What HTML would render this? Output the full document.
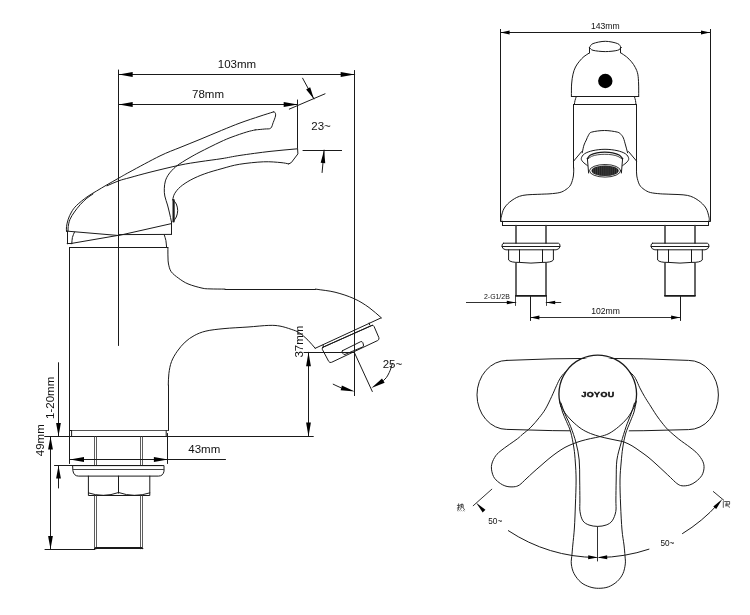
<!DOCTYPE html>
<html><head><meta charset="utf-8"><style>
html,body{margin:0;padding:0;background:#fff;}
body{width:750px;height:615px;overflow:hidden;}
svg{display:block;font-family:"Liberation Sans",sans-serif;will-change:transform;}
</style></head><body>
<svg width="750" height="615" viewBox="0 0 750 615" stroke-linecap="round" stroke-linejoin="round">
<rect width="750" height="615" fill="#fff"/>
<line x1="118.5" y1="70" x2="118.5" y2="345.5" stroke="#1a1a1a" stroke-width="1"/>
<line x1="118.7" y1="74.5" x2="354.7" y2="74.5" stroke="#1a1a1a" stroke-width="1"/>
<polygon points="118.7,74.5 132.7,72 132.7,77" fill="#000"/>
<polygon points="354.7,74.5 340.7,77 340.7,72" fill="#000"/>
<text x="237" y="68.2" font-size="11.5" text-anchor="middle" font-weight="normal" fill="#111">103mm</text>
<line x1="354.5" y1="70.5" x2="354.5" y2="395.6" stroke="#1a1a1a" stroke-width="1"/>
<line x1="118.7" y1="104.5" x2="297.7" y2="104.5" stroke="#1a1a1a" stroke-width="1"/>
<polygon points="118.7,104.5 132.7,102 132.7,107" fill="#000"/>
<polygon points="297.7,104.5 283.7,107 283.7,102" fill="#000"/>
<text x="208" y="98.2" font-size="11.5" text-anchor="middle" font-weight="normal" fill="#111">78mm</text>
<line x1="297.5" y1="100" x2="297.5" y2="148" stroke="#1a1a1a" stroke-width="1"/>
<line x1="289.3" y1="109.1" x2="325" y2="93.8" stroke="#1a1a1a" stroke-width="1"/>
<line x1="302.6" y1="78.2" x2="313.9" y2="98.9" stroke="#1a1a1a" stroke-width="1"/>
<polygon points="313.9,98.9 306.13,89.47 310.17,87.27" fill="#000"/>
<text x="311.3" y="129.6" font-size="11.5" text-anchor="start" font-weight="normal" fill="#111">23~</text>
<line x1="303" y1="150.5" x2="341.6" y2="150.5" stroke="#1a1a1a" stroke-width="1"/>
<line x1="324.1" y1="150.1" x2="322.1" y2="172.5" stroke="#1a1a1a" stroke-width="1"/>
<polygon points="324.1,150.1 325.23,163.25 320.65,162.84" fill="#000"/>
<path d="M66.5 231.4 C66.5 229.8 66.22 228.62 66.5 226.6 C66.78 224.58 67.37 221.73 68.2 219.3 C69.03 216.87 70.1 214.32 71.5 212 C72.9 209.68 74.03 207.9 76.6 205.4 C79.17 202.9 83.6 199.38 86.9 197 C90.2 194.62 93.05 193.13 96.4 191.1 C99.75 189.07 103.27 186.97 107 184.8 C110.73 182.63 114.97 180.27 118.8 178.1 C122.63 175.93 123.13 175.5 130 171.8 C136.87 168.1 151.67 159.95 160 155.9 C168.33 151.85 173.33 150.25 180 147.5 C186.67 144.75 193.08 142.25 200 139.4 C206.92 136.55 214.83 133.13 221.5 130.4 C228.17 127.67 233.58 125.37 240 123 C246.42 120.63 254.42 118.05 260 116.2 C265.58 114.35 269 113.33 273.5 111.9" stroke="#1a1a1a" stroke-width="1" fill="none"/>
<path d="M273.5 111.9 C274.03 112.13 274.77 111.92 275.1 112.6 C275.43 113.28 275.82 114.35 275.5 116 C275.18 117.65 274 120.47 273.2 122.5 C272.4 124.53 272.1 127.12 270.7 128.2 C269.3 129.28 267.38 128.72 264.8 129 C262.22 129.28 258.4 129.6 255.2 129.9" stroke="#1a1a1a" stroke-width="1" fill="none"/>
<path d="M255.2 129.9 C252.37 130.6 250.57 130.82 246.7 132 C242.83 133.18 236.45 135.32 232 137 C227.55 138.68 225.33 139.6 220 142.1 C214.67 144.6 205 149.43 200 152 C195 154.57 192.92 155.83 190 157.5 C187.08 159.17 184.9 160.45 182.5 162 C180.1 163.55 177.87 164.8 175.6 166.8 C173.33 168.8 170.6 171.65 168.9 174 C167.2 176.35 166.17 178.45 165.4 180.9 C164.63 183.35 164.4 186.18 164.3 188.7 C164.2 191.22 164.27 193.28 164.8 196 C165.33 198.72 166.72 202.17 167.5 205 C168.28 207.83 168.83 210.17 169.5 213 C170.17 215.83 170.83 219 171.5 222" stroke="#1a1a1a" stroke-width="1" fill="none"/>
<path d="M68.1 230.8 C68.13 229.4 67.88 228.52 68.2 226.6 C68.52 224.68 68.97 221.73 70 219.3 C71.03 216.87 72.68 214.45 74.4 212 C76.12 209.55 78.22 206.9 80.3 204.6 C82.38 202.3 84.78 199.97 86.9 198.2 C89.02 196.43 90.97 195.4 93 194" stroke="#1a1a1a" stroke-width="1" fill="none"/>
<path d="M107 185.8 C110.93 184.13 114.97 182.17 118.8 180.8 C122.63 179.43 124.8 179.03 130 177.6 C135.2 176.17 141.67 174.28 150 172.2 C158.33 170.12 171.67 166.85 180 165.1 C188.33 163.35 193 162.78 200 161.7 C207 160.62 215.33 159.65 222 158.6 C228.67 157.55 232 156.6 240 155.4 C248 154.2 260.4 152.5 270 151.4 C279.6 150.3 288.4 149.67 297.6 148.8" stroke="#1a1a1a" stroke-width="1" fill="none"/>
<path d="M297.6 148.8 L297.9 153.9 L291.3 162.6 L288.7 163.9" stroke="#1a1a1a" stroke-width="1" fill="none"/>
<path d="M288.7 163.9 C286.13 163.47 285.18 162.95 281 162.6 C276.82 162.25 270.55 161.52 263.6 161.8 C256.65 162.08 246.23 163.17 239.3 164.3 C232.37 165.43 227.77 167.02 222 168.6 C216.23 170.18 209.9 171.92 204.7 173.8 C199.5 175.68 194.85 177.73 190.8 179.9 C186.75 182.07 183.1 184.5 180.4 186.8 C177.7 189.1 175.9 191.5 174.6 193.7 C173.3 195.9 173.27 197.9 172.6 200" stroke="#1a1a1a" stroke-width="1" fill="none"/>
<line x1="173.6" y1="200" x2="173.6" y2="221.4" stroke="#1a1a1a" stroke-width="2.2"/>
<path d="M173.2 200 C174.23 201.33 175.55 202.25 176.3 204 C177.05 205.75 177.7 208.33 177.7 210.5 C177.7 212.67 177.05 215.18 176.3 217 C175.55 218.82 174.23 219.93 173.2 221.4" stroke="#1a1a1a" stroke-width="1" fill="none"/>
<line x1="171.5" y1="222" x2="171.5" y2="234.2" stroke="#1a1a1a" stroke-width="1"/>
<line x1="66.6" y1="231.1" x2="118.7" y2="235.5" stroke="#1a1a1a" stroke-width="1"/>
<line x1="118.7" y1="235.5" x2="171.5" y2="223.6" stroke="#1a1a1a" stroke-width="1"/>
<line x1="70.4" y1="243.6" x2="118.7" y2="235.3" stroke="#1a1a1a" stroke-width="1"/>
<line x1="118.7" y1="234.6" x2="171.5" y2="234.4" stroke="#1a1a1a" stroke-width="1"/>
<line x1="67.5" y1="231.2" x2="67.5" y2="243.8" stroke="#1a1a1a" stroke-width="1"/>
<path d="M74.5 232.1 C73.8 233.9 72.85 235.55 72.4 237.5 C71.95 239.45 72 241.7 71.8 243.8" stroke="#1a1a1a" stroke-width="1" fill="none"/>
<line x1="67.2" y1="243.5" x2="71.8" y2="243.5" stroke="#1a1a1a" stroke-width="1"/>
<path d="M164.3 235.1 C164.83 236.9 165.52 238.42 165.9 240.5 C166.28 242.58 166.37 245.23 166.6 247.6" stroke="#1a1a1a" stroke-width="1" fill="none"/>
<line x1="69.5" y1="247.5" x2="167.9" y2="247.5" stroke="#1a1a1a" stroke-width="1"/>
<line x1="69.5" y1="247.6" x2="69.5" y2="463.5" stroke="#1a1a1a" stroke-width="1"/>
<path d="M167.9 247.6 C167.9 249.07 167.88 250.27 167.9 252 C167.92 253.73 167.9 256 168 258 C168.1 260 167.97 261.72 168.5 264 C169.03 266.28 169.5 269.32 171.2 271.7 C172.9 274.08 175.9 276.27 178.7 278.3 C181.5 280.33 184.12 282.27 188 283.9 C191.88 285.53 198.33 287.27 202 288.1 C205.67 288.93 206.17 288.73 210 288.9 C213.83 289.07 220 289.03 225 289.1" stroke="#1a1a1a" stroke-width="1" fill="none"/>
<line x1="225" y1="289.5" x2="315.5" y2="289.5" stroke="#1a1a1a" stroke-width="1"/>
<path d="M315.5 289.1 C322 290.13 328.55 290.6 335 292.2 C341.45 293.8 348.53 296.15 354.2 298.7 C359.87 301.25 364.45 304.28 369 307.5 C373.55 310.72 377.33 314.5 381.5 318" stroke="#1a1a1a" stroke-width="1" fill="none"/>
<line x1="380.8" y1="318" x2="315.2" y2="348.3" stroke="#1a1a1a" stroke-width="1"/>
<path d="M315.2 348.3 C312.8 345.6 310.67 342.8 308 340.2 C305.33 337.6 302 334.52 299.2 332.7 C296.4 330.88 294.4 330.4 291.2 329.3 C288 328.2 283.73 326.75 280 326.1 C276.27 325.45 274.13 325.25 268.8 325.4 C263.47 325.55 255.47 326.47 248 327 C240.53 327.53 231.02 327.92 224 328.6 C216.98 329.28 210.87 329.93 205.9 331.1 C200.93 332.27 197.67 333.77 194.2 335.6 C190.73 337.43 187.92 339.5 185.1 342.1 C182.28 344.7 179.57 347.95 177.3 351.2 C175.03 354.45 172.9 357.92 171.5 361.6 C170.1 365.28 169.43 369.4 168.9 373.3 C168.37 377.2 168.5 381.1 168.3 385" stroke="#1a1a1a" stroke-width="1" fill="none"/>
<line x1="168.5" y1="385" x2="168.5" y2="430.6" stroke="#1a1a1a" stroke-width="1"/>
<line x1="322.7" y1="347.3" x2="372.6" y2="325.2" stroke="#1a1a1a" stroke-width="1"/>
<line x1="323.1" y1="345" x2="323.3" y2="346.8" stroke="#1a1a1a" stroke-width="1"/>
<line x1="369.2" y1="323.1" x2="369.6" y2="324.8" stroke="#1a1a1a" stroke-width="1"/>
<path d="M322.7 347.4 L371.5 325.5 Q373.4 324.8 374.1 326.5 L378.9 337.7 Q379.5 339.6 377.7 340.5 L331.6 362.3 Q329.7 363.1 328.7 361.4 L322.3 349.3 Q321.9 347.9 322.7 347.4Z" stroke="#1a1a1a" stroke-width="1" fill="none"/>
<path d="M342.5 350.7 L360.6 341.7 Q362.2 341.1 362.8 342.6 L363.5 345 Q363.7 346.3 362.4 347.1 L345 354.4 Q343.6 354.8 343 353.6 L342 351.9 Q341.8 351 342.5 350.7Z" stroke="#1a1a1a" stroke-width="1" fill="none"/>
<line x1="304" y1="352.5" x2="354.5" y2="352.5" stroke="#1a1a1a" stroke-width="1"/>
<line x1="308.5" y1="352.3" x2="308.5" y2="436.6" stroke="#1a1a1a" stroke-width="1"/>
<polygon points="308.5,352.3 310.9,366.3 306.1,366.3" fill="#000"/>
<polygon points="308.5,436.6 306.1,422.6 310.9,422.6" fill="#000"/>
<text x="0" y="0" font-size="11.5" text-anchor="middle" font-weight="normal" fill="#111" transform="translate(303.4 341.6) rotate(-90)">37mm</text>
<line x1="70" y1="436.5" x2="313.3" y2="436.5" stroke="#1a1a1a" stroke-width="1"/>
<line x1="354.4" y1="352.6" x2="372.3" y2="391.5" stroke="#1a1a1a" stroke-width="1"/>
<path d="M333.2 384.2 C334.47 384.8 335.7 385.4 337 386 C338.3 386.6 339.67 387.2 341 387.8" stroke="#1a1a1a" stroke-width="1" fill="none"/>
<polygon points="354.8,391.4 340.62,390.29 341.88,385.45" fill="#000"/>
<path d="M383.6 380.4 C384.57 379.4 385.57 378.7 386.5 377.4 C387.43 376.1 388.45 374.17 389.2 372.6 C389.95 371.03 390.53 369.37 391 368 C391.47 366.63 391.67 365.6 392 364.4" stroke="#1a1a1a" stroke-width="1" fill="none"/>
<polygon points="371.4,387.9 382.02,378.44 384.64,382.7" fill="#000"/>
<text x="382.7" y="367.7" font-size="11.5" text-anchor="start" font-weight="normal" fill="#111">25~</text>
<line x1="71.6" y1="430.5" x2="167.9" y2="430.5" stroke="#555" stroke-width="1.2"/>
<line x1="69.5" y1="430.5" x2="71.6" y2="430.5" stroke="#1a1a1a" stroke-width="1"/>
<path d="M71.6 430.6 L71.6 436.4" stroke="#1a1a1a" stroke-width="1" fill="none"/>
<path d="M166.2 430.6 L166.2 436.4" stroke="#1a1a1a" stroke-width="1" fill="none"/>
<line x1="167.5" y1="433.5" x2="167.5" y2="463.5" stroke="#1a1a1a" stroke-width="1"/>
<line x1="94.5" y1="436.4" x2="94.5" y2="465.3" stroke="#333" stroke-width="0.8"/>
<line x1="96.5" y1="436.4" x2="96.5" y2="465.3" stroke="#333" stroke-width="0.8"/>
<line x1="140.5" y1="436.4" x2="140.5" y2="465.3" stroke="#333" stroke-width="0.8"/>
<line x1="142.5" y1="436.4" x2="142.5" y2="465.3" stroke="#333" stroke-width="0.8"/>
<line x1="70" y1="459.5" x2="225.5" y2="459.5" stroke="#1a1a1a" stroke-width="1"/>
<polygon points="70,459.5 84,457.1 84,461.9" fill="#000"/>
<polygon points="167.9,459.5 153.9,461.9 153.9,457.1" fill="#000"/>
<text x="204.3" y="452.8" font-size="11.5" text-anchor="middle" font-weight="normal" fill="#111">43mm</text>
<line x1="54.5" y1="465.5" x2="162" y2="465.5" stroke="#1a1a1a" stroke-width="1"/>
<path d="M73 465.6 L164 465.6 L164 471.2 Q163.2 476 158.5 476.1 L78.5 476.1 Q73.8 476 73 471.2Z" stroke="#1a1a1a" stroke-width="1" fill="none"/>
<line x1="73.2" y1="469.5" x2="163.8" y2="469.5" stroke="#444" stroke-width="1.1"/>
<path d="M88.4 476.1 L88.4 495.5 L149.8 495.5 L149.8 476.1" stroke="#1a1a1a" stroke-width="1" fill="none"/>
<path d="M88.4 492.9 Q103.4 498 118.6 492.5 Q134.2 498 149.8 492.9" stroke="#1a1a1a" stroke-width="1" fill="none"/>
<line x1="118.5" y1="476.1" x2="118.5" y2="493.2" stroke="#1a1a1a" stroke-width="1"/>
<line x1="94.5" y1="495.2" x2="94.5" y2="548.8" stroke="#333" stroke-width="0.8"/>
<line x1="96.5" y1="495.2" x2="96.5" y2="548.8" stroke="#333" stroke-width="0.8"/>
<line x1="140.5" y1="495.2" x2="140.5" y2="548.8" stroke="#333" stroke-width="0.8"/>
<line x1="142.5" y1="495.2" x2="142.5" y2="548.8" stroke="#333" stroke-width="0.8"/>
<line x1="94.4" y1="548.5" x2="142.9" y2="548.5" stroke="#1a1a1a" stroke-width="1"/>
<line x1="95.5" y1="547.5" x2="141.8" y2="547.5" stroke="#1a1a1a" stroke-width="1"/>
<line x1="45" y1="549.5" x2="95" y2="549.5" stroke="#1a1a1a" stroke-width="1"/>
<line x1="50.5" y1="436.6" x2="50.5" y2="549" stroke="#1a1a1a" stroke-width="1"/>
<polygon points="50.5,436.6 52.9,449.6 48.1,449.6" fill="#000"/>
<polygon points="50.5,549 48.1,536 52.9,536" fill="#000"/>
<line x1="44.7" y1="436.5" x2="70" y2="436.5" stroke="#1a1a1a" stroke-width="1"/>
<text x="0" y="0" font-size="11.5" text-anchor="middle" font-weight="normal" fill="#111" transform="translate(43.7 440.2) rotate(-90)">49mm</text>
<line x1="58.5" y1="362.7" x2="58.5" y2="436.1" stroke="#1a1a1a" stroke-width="1"/>
<polygon points="58.5,436.1 56.1,423.1 60.9,423.1" fill="#000"/>
<line x1="58.5" y1="465.6" x2="58.5" y2="488" stroke="#1a1a1a" stroke-width="1"/>
<polygon points="58.5,465.6 60.9,478.6 56.1,478.6" fill="#000"/>
<text x="0" y="0" font-size="11.5" text-anchor="middle" font-weight="normal" fill="#111" transform="translate(53.6 397.8) rotate(-90)">1-20mm</text>
<line x1="500.5" y1="29.4" x2="500.5" y2="221.2" stroke="#1a1a1a" stroke-width="1"/>
<line x1="710.5" y1="29.4" x2="710.5" y2="221.2" stroke="#1a1a1a" stroke-width="1"/>
<line x1="500.6" y1="32.5" x2="710.2" y2="32.5" stroke="#1a1a1a" stroke-width="1"/>
<polygon points="500.6,32.5 509.6,30.5 509.6,34.5" fill="#000"/>
<polygon points="710,32.5 701,34.5 701,30.5" fill="#000"/>
<text x="605.3" y="29.2" font-size="8.6" text-anchor="middle" font-weight="normal" fill="#111">143mm</text>
<path d="M589.5 47.5 C590.67 46.2 590.37 44.63 593 43.6 C595.63 42.57 601.2 41.3 605.3 41.3 C609.4 41.3 614.97 42.57 617.6 43.6 C620.23 44.63 619.93 46.2 621.1 47.5" stroke="#1a1a1a" stroke-width="1" fill="none"/>
<path d="M589.5 47.5 C590.67 48.43 590.37 49.62 593 50.3 C595.63 50.98 601.2 51.6 605.3 51.6 C609.4 51.6 614.97 50.98 617.6 50.3 C620.23 49.62 619.93 48.43 621.1 47.5" stroke="#1a1a1a" stroke-width="1" fill="none"/>
<line x1="589.5" y1="47.5" x2="589.5" y2="52.8" stroke="#1a1a1a" stroke-width="1"/>
<line x1="620.5" y1="47.5" x2="620.5" y2="52.8" stroke="#1a1a1a" stroke-width="1"/>
<path d="M589.7 52.8 C587.8 54.03 585.7 55.1 584 56.5 C582.3 57.9 580.92 59.45 579.5 61.2 C578.08 62.95 576.58 64.83 575.5 67 C574.42 69.17 573.65 71.37 573 74.2 C572.35 77.03 571.87 80.3 571.6 84 C571.33 87.7 571.47 92.27 571.4 96.4" stroke="#1a1a1a" stroke-width="1" fill="none"/>
<path d="M620.7 52.8 C622.63 54.13 624.7 55.3 626.5 56.8 C628.3 58.3 630.03 60.02 631.5 61.8 C632.97 63.58 634.25 65.43 635.3 67.5 C636.35 69.57 637.25 71.45 637.8 74.2 C638.35 76.95 638.45 80.3 638.6 84 C638.75 87.7 638.67 92.27 638.7 96.4" stroke="#1a1a1a" stroke-width="1" fill="none"/>
<line x1="571.4" y1="96.5" x2="638.7" y2="96.5" stroke="#1a1a1a" stroke-width="1"/>
<circle cx="605.3" cy="81" r="7.2" fill="#000"/>
<path d="M576.2 96.9 C575.8 98.1 575.3 99.28 575 100.5 C574.7 101.72 574.6 102.97 574.4 104.2" stroke="#1a1a1a" stroke-width="1" fill="none"/>
<path d="M634.5 96.9 C634.83 98.1 635.27 99.28 635.5 100.5 C635.73 101.72 635.77 102.97 635.9 104.2" stroke="#1a1a1a" stroke-width="1" fill="none"/>
<line x1="573.6" y1="104.5" x2="636.3" y2="104.5" stroke="#1a1a1a" stroke-width="1"/>
<line x1="573.5" y1="104.4" x2="573.5" y2="168" stroke="#1a1a1a" stroke-width="1"/>
<line x1="636.5" y1="104.4" x2="636.5" y2="168" stroke="#1a1a1a" stroke-width="1"/>
<path d="M573.7 168 C573.6 170.67 573.9 173.2 573.4 176 C572.9 178.8 571.93 182.55 570.7 184.8 C569.47 187.05 567.8 188.22 566 189.5 C564.2 190.78 562.57 191.78 559.9 192.5 C557.23 193.22 553.1 193.52 550 193.8 C546.9 194.08 545.83 193.93 541.3 194.2 C536.77 194.47 527.68 194.38 522.8 195.4 C517.92 196.42 515.08 198.2 512 200.3 C508.92 202.4 506.1 205.18 504.3 208 C502.5 210.82 501.75 215 501.2 217.2 C500.65 219.4 501.07 219.87 501 221.2" stroke="#1a1a1a" stroke-width="1" fill="none"/>
<path d="M636.5 168 C636.6 170.67 636.3 173.2 636.8 176 C637.3 178.8 638.27 182.55 639.5 184.8 C640.73 187.05 642.4 188.22 644.2 189.5 C646 190.78 647.63 191.78 650.3 192.5 C652.97 193.22 657.1 193.52 660.2 193.8 C663.3 194.08 664.37 193.93 668.9 194.2 C673.43 194.47 682.52 194.38 687.4 195.4 C692.28 196.42 695.12 198.2 698.2 200.3 C701.28 202.4 704.1 205.18 705.9 208 C707.7 210.82 708.45 215 709 217.2 C709.55 219.4 709.13 219.87 709.2 221.2" stroke="#1a1a1a" stroke-width="1" fill="none"/>
<line x1="501" y1="221.5" x2="710.2" y2="221.5" stroke="#1a1a1a" stroke-width="1"/>
<line x1="502.4" y1="225.5" x2="708.4" y2="225.5" stroke="#1a1a1a" stroke-width="1"/>
<line x1="502.5" y1="221.2" x2="502.5" y2="225.3" stroke="#1a1a1a" stroke-width="1"/>
<line x1="708.5" y1="221.2" x2="708.5" y2="225.3" stroke="#1a1a1a" stroke-width="1"/>
<path d="M582.2 152.8 C582.8 150.2 583.32 147.13 584 145 C584.68 142.87 585.55 141.63 586.3 140 C587.05 138.37 587.6 136.52 588.5 135.2 C589.4 133.88 589.03 132.88 591.7 132.1 C594.37 131.32 600.23 130.5 604.5 130.5 C608.77 130.5 614.55 131.43 617.3 132.1 C620.05 132.77 619.98 133.52 621 134.5 C622.02 135.48 622.65 136.25 623.4 138 C624.15 139.75 624.8 142.53 625.5 145 C626.2 147.47 626.9 150.2 627.6 152.8" stroke="#1a1a1a" stroke-width="1" fill="none"/>
<line x1="573.8" y1="160.9" x2="581.6" y2="151.6" stroke="#1a1a1a" stroke-width="1"/>
<line x1="636.4" y1="160.9" x2="628.6" y2="151.6" stroke="#1a1a1a" stroke-width="1"/>
<path d="M587.4 165.6 C585.93 164.4 584.02 163.2 583 162 C581.98 160.8 581.05 159.77 581.3 158.4 C581.55 157.03 582.55 155.1 584.5 153.8 C586.45 152.5 589.58 151.35 593 150.6 C596.42 149.85 601 149.3 605 149.3 C609 149.3 613.58 149.85 617 150.6 C620.42 151.35 623.55 152.5 625.5 153.8 C627.45 155.1 628.45 157.03 628.7 158.4 C628.95 159.77 628.02 160.8 627 162 C625.98 163.2 624.07 164.4 622.6 165.6" stroke="#1a1a1a" stroke-width="1" fill="none"/>
<path d="M587.3 158.6 C588.37 157.4 588.88 155.97 590.5 155 C592.12 154.03 594.62 153.27 597 152.8 C599.38 152.33 602.2 152.2 604.8 152.2 C607.4 152.2 610.22 152.33 612.6 152.8 C614.98 153.27 617.42 154.03 619.1 155 C620.78 155.97 621.5 157.4 622.7 158.6" stroke="#1a1a1a" stroke-width="1.3" fill="none"/>
<path d="M587.6 159.2 C588.9 158.27 589.85 157.13 591.5 156.4 C593.15 155.67 595.28 155.15 597.5 154.8 C599.72 154.45 602.38 154.3 604.8 154.3 C607.22 154.3 609.8 154.45 612 154.8 C614.2 155.15 616.28 155.67 618 156.4 C619.72 157.13 620.87 158.27 622.3 159.2" stroke="#1a1a1a" stroke-width="0.8" fill="none"/>
<line x1="587.4" y1="158.6" x2="588.6" y2="173" stroke="#1a1a1a" stroke-width="1"/>
<line x1="622.6" y1="158.6" x2="621.4" y2="173" stroke="#1a1a1a" stroke-width="1"/>
<ellipse cx="605.1" cy="170.8" rx="15.6" ry="6.3" stroke="#1a1a1a" stroke-width="0.9" fill="none"/>
<ellipse cx="605.1" cy="170.8" rx="13.6" ry="5.3" stroke="none" stroke-width="0" fill="#1e1e1e"/>
<line x1="593.7" y1="168.51" x2="593.7" y2="173.09" stroke="#666" stroke-width="0.45"/>
<line x1="595.6" y1="167.61" x2="595.6" y2="173.99" stroke="#666" stroke-width="0.45"/>
<line x1="597.5" y1="167" x2="597.5" y2="174.6" stroke="#666" stroke-width="0.45"/>
<line x1="599.4" y1="166.59" x2="599.4" y2="175.01" stroke="#666" stroke-width="0.45"/>
<line x1="601.3" y1="166.31" x2="601.3" y2="175.29" stroke="#666" stroke-width="0.45"/>
<line x1="603.2" y1="166.15" x2="603.2" y2="175.45" stroke="#666" stroke-width="0.45"/>
<line x1="605.1" y1="166.1" x2="605.1" y2="175.5" stroke="#666" stroke-width="0.45"/>
<line x1="607" y1="166.15" x2="607" y2="175.45" stroke="#666" stroke-width="0.45"/>
<line x1="608.9" y1="166.31" x2="608.9" y2="175.29" stroke="#666" stroke-width="0.45"/>
<line x1="610.8" y1="166.59" x2="610.8" y2="175.01" stroke="#666" stroke-width="0.45"/>
<line x1="612.7" y1="167" x2="612.7" y2="174.6" stroke="#666" stroke-width="0.45"/>
<line x1="614.6" y1="167.61" x2="614.6" y2="173.99" stroke="#666" stroke-width="0.45"/>
<line x1="616.5" y1="168.51" x2="616.5" y2="173.09" stroke="#666" stroke-width="0.45"/>
<line x1="515.5" y1="225.3" x2="515.5" y2="243.2" stroke="#333" stroke-width="0.75"/>
<line x1="516.5" y1="225.3" x2="516.5" y2="243.2" stroke="#333" stroke-width="0.75"/>
<line x1="545.5" y1="225.3" x2="545.5" y2="243.2" stroke="#333" stroke-width="0.75"/>
<line x1="546.5" y1="225.3" x2="546.5" y2="243.2" stroke="#333" stroke-width="0.75"/>
<path d="M503.6 243.2 L558.4 243.2 Q560.1 243.3 560.1 246.5 Q559.1 249.6 556.1 249.8 L505.9 249.8 Q502.9 249.6 501.9 246.5 Q501.9 243.3 503.6 243.2Z" stroke="#1a1a1a" stroke-width="1" fill="none"/>
<line x1="502.3" y1="246.5" x2="559.7" y2="246.5" stroke="#1a1a1a" stroke-width="1"/>
<path d="M508.6 249.8 L508.6 260 Q510.6 262.6 519.4 262.4 Q530.9 263.8 542.6 262.4 Q551.4 262.6 553.4 260 L553.4 249.8" stroke="#1a1a1a" stroke-width="1" fill="none"/>
<line x1="519.5" y1="249.8" x2="519.5" y2="262.3" stroke="#1a1a1a" stroke-width="1"/>
<line x1="542.5" y1="249.8" x2="542.5" y2="262.3" stroke="#1a1a1a" stroke-width="1"/>
<line x1="515.5" y1="262.5" x2="515.5" y2="295.6" stroke="#333" stroke-width="0.75"/>
<line x1="516.5" y1="262.5" x2="516.5" y2="295.6" stroke="#333" stroke-width="0.75"/>
<line x1="545.5" y1="262.5" x2="545.5" y2="295.6" stroke="#333" stroke-width="0.75"/>
<line x1="546.5" y1="262.5" x2="546.5" y2="295.6" stroke="#333" stroke-width="0.75"/>
<line x1="515.9" y1="295.8" x2="546.1" y2="295.8" stroke="#1a1a1a" stroke-width="1.8"/>
<line x1="664.5" y1="225.3" x2="664.5" y2="243.2" stroke="#333" stroke-width="0.75"/>
<line x1="665.5" y1="225.3" x2="665.5" y2="243.2" stroke="#333" stroke-width="0.75"/>
<line x1="694.5" y1="225.3" x2="694.5" y2="243.2" stroke="#333" stroke-width="0.75"/>
<line x1="695.5" y1="225.3" x2="695.5" y2="243.2" stroke="#333" stroke-width="0.75"/>
<path d="M652.6 243.2 L707.3 243.2 Q709 243.3 709 246.5 Q708 249.6 705 249.8 L654.9 249.8 Q651.9 249.6 650.9 246.5 Q650.9 243.3 652.6 243.2Z" stroke="#1a1a1a" stroke-width="1" fill="none"/>
<line x1="651.3" y1="246.5" x2="708.6" y2="246.5" stroke="#1a1a1a" stroke-width="1"/>
<path d="M657.6 249.8 L657.6 260 Q659.6 262.6 668.4 262.4 Q680 263.8 691.5 262.4 Q700.3 262.6 702.3 260 L702.3 249.8" stroke="#1a1a1a" stroke-width="1" fill="none"/>
<line x1="668.5" y1="249.8" x2="668.5" y2="262.3" stroke="#1a1a1a" stroke-width="1"/>
<line x1="691.5" y1="249.8" x2="691.5" y2="262.3" stroke="#1a1a1a" stroke-width="1"/>
<line x1="664.5" y1="262.5" x2="664.5" y2="295.6" stroke="#333" stroke-width="0.75"/>
<line x1="665.5" y1="262.5" x2="665.5" y2="295.6" stroke="#333" stroke-width="0.75"/>
<line x1="694.5" y1="262.5" x2="694.5" y2="295.6" stroke="#333" stroke-width="0.75"/>
<line x1="695.5" y1="262.5" x2="695.5" y2="295.6" stroke="#333" stroke-width="0.75"/>
<line x1="664.9" y1="295.8" x2="695" y2="295.8" stroke="#1a1a1a" stroke-width="1.8"/>
<text x="484" y="298.9" font-size="7.7" text-anchor="start" font-weight="normal" fill="#111" transform="translate(484 298.9) scale(0.9 1) translate(-484 -298.9)">2-G1/2B</text>
<line x1="466.4" y1="302.5" x2="515.8" y2="302.5" stroke="#1a1a1a" stroke-width="0.9"/>
<polygon points="515.8,302.5 506.8,304.3 506.8,300.7" fill="#000"/>
<line x1="546.2" y1="302.5" x2="560.8" y2="302.5" stroke="#1a1a1a" stroke-width="0.9"/>
<polygon points="546.2,302.5 555.2,300.7 555.2,304.3" fill="#000"/>
<line x1="515.5" y1="296" x2="515.5" y2="305.5" stroke="#1a1a1a" stroke-width="0.8"/>
<line x1="546.5" y1="296" x2="546.5" y2="305.5" stroke="#1a1a1a" stroke-width="0.8"/>
<line x1="530.5" y1="296.5" x2="530.5" y2="320.5" stroke="#1a1a1a" stroke-width="1"/>
<line x1="680.5" y1="296.5" x2="680.5" y2="320.5" stroke="#1a1a1a" stroke-width="1"/>
<line x1="530.4" y1="317.5" x2="680.1" y2="317.5" stroke="#1a1a1a" stroke-width="0.9"/>
<polygon points="530.4,317.5 539.4,315.5 539.4,319.5" fill="#000"/>
<polygon points="680.1,317.5 671.1,319.5 671.1,315.5" fill="#000"/>
<text x="605.6" y="313.6" font-size="8.6" text-anchor="middle" font-weight="normal" fill="#111">102mm</text>
<path d="M506.8 360.4 Q597.7 356.2 688.6 360.4 A29.8 34.6 0 0 1 688.6 429.6 Q597.7 432.6 506.8 429.4 A29.8 34.5 0 0 1 506.8 360.4Z" stroke="#1a1a1a" stroke-width="1" fill="none"/>
<ellipse cx="597.7" cy="395.2" rx="38.8" ry="38.8" stroke="none" stroke-width="0" fill="#fff"/>
<path d="M560 400 L566.4 421.3 L570.7 432 L574 448 L626 448 L630.4 421.3 L636.8 400Z" stroke="none" stroke-width="0" fill="#fff"/>
<path d="M561 406.4 A38.8 38.8 0 1 1 634.5 406.4" stroke="#1a1a1a" stroke-width="1.3" fill="none"/>
<path d="M559.6 401 C560.57 404.67 561.37 408.62 562.5 412 C563.63 415.38 565.03 417.97 566.4 421.3 C567.77 424.63 569.45 427.55 570.7 432 C571.95 436.45 573.13 443 573.9 448 C574.67 453 574.93 456.67 575.3 462 C575.67 467.33 576.08 472.83 576.1 480 C576.12 487.17 575.68 497 575.4 505 C575.12 513 574.83 521.33 574.4 528 C573.97 534.67 573.2 540.65 572.8 545 C572.4 549.35 572.25 550.95 572 554.1 C571.75 557.25 570.95 560.63 571.3 563.9 C571.65 567.17 572.48 570.62 574.1 573.7 C575.72 576.78 578.38 580.2 581 582.4 C583.62 584.6 586.88 585.92 589.8 586.9 C592.72 587.88 595.42 588.3 598.5 588.3 C601.58 588.3 605.2 588.03 608.3 586.9 C611.4 585.77 614.67 583.7 617.1 581.5 C619.53 579.3 621.53 576.63 622.9 573.7 C624.27 570.77 624.95 566.85 625.3 563.9 C625.65 560.95 625.22 559.15 625 556 C624.78 552.85 624.5 549.33 624 545 C623.5 540.67 622.57 536.67 622 530 C621.43 523.33 620.93 513.33 620.6 505 C620.27 496.67 619.9 487.17 620 480 C620.1 472.83 620.75 467.33 621.2 462 C621.65 456.67 621.98 452.67 622.7 448 C623.42 443.33 624.22 438.45 625.5 434 C626.78 429.55 628.98 424.97 630.4 421.3 C631.82 417.63 633 415.38 634 412 C635 408.62 635.6 404.67 636.4 401" stroke="#1a1a1a" stroke-width="1" fill="none"/>
<path d="M561 403 C562.33 406.67 563.38 410.05 565 414 C566.62 417.95 568.87 421.92 570.7 426.7 C572.53 431.48 574.58 437.15 576 442.7 C577.42 448.25 578.58 453.78 579.2 460 C579.82 466.22 579.58 473.33 579.7 480 C579.82 486.67 579.85 494.75 579.9 500 C579.95 505.25 579.5 508.03 580 511.5 C580.5 514.97 581.4 518.55 582.9 520.8 C584.4 523.05 586.55 524.07 589 525 C591.45 525.93 594.73 526.4 597.6 526.4 C600.47 526.4 603.77 525.93 606.2 525 C608.63 524.07 610.6 523.05 612.2 520.8 C613.8 518.55 615.18 514.97 615.8 511.5 C616.42 508.03 615.83 505.25 615.9 500 C615.97 494.75 616.03 486.67 616.2 480 C616.37 473.33 616.07 466.22 616.9 460 C617.73 453.78 619.67 448.25 621.2 442.7 C622.73 437.15 624.47 431.48 626.1 426.7 C627.73 421.92 629.6 417.95 631 414 C632.4 410.05 633.33 406.67 634.5 403" stroke="#1a1a1a" stroke-width="1" fill="none"/>
<path d="M566.5 371.2 C565.6 371.97 564.87 372.3 563.8 373.5 C562.73 374.7 561.32 376.37 560.1 378.4 C558.88 380.43 557.92 382.65 556.5 385.7 C555.08 388.75 553.43 392.83 551.6 396.7 C549.77 400.57 547.53 405.45 545.5 408.9 C543.47 412.35 541.83 414.35 539.4 417.4 C536.97 420.45 533.75 424.35 530.9 427.2 C528.05 430.05 524.55 432.57 522.3 434.5 C520.05 436.43 520.95 436.12 517.4 438.8 C513.85 441.48 504.8 447.48 501 450.6 C497.2 453.72 496.2 454.83 494.6 457.5 C493 460.17 491.58 463.43 491.4 466.6 C491.22 469.77 492.23 473.85 493.5 476.5 C494.77 479.15 496.92 480.88 499 482.5 C501.08 484.12 503.53 485.48 506 486.2 C508.47 486.92 511.57 487 513.8 486.8 C516.03 486.6 517.37 486.3 519.4 485 C521.43 483.7 523.73 481.08 526 479 C528.27 476.92 530.5 474.75 533 472.5 C535.5 470.25 538.33 467.82 541 465.5 C543.67 463.18 546.33 460.77 549 458.6 C551.67 456.43 554.33 454.37 557 452.5 C559.67 450.63 562.33 448.85 565 447.4 C567.67 445.95 570.33 444.87 573 443.8 C575.67 442.73 578.08 441.87 581 441 C583.92 440.13 587.33 439.33 590.5 438.6 C593.67 437.87 596.92 437.45 600 436.6 C603.08 435.75 605.88 435.15 609 433.5 C612.12 431.85 615.62 429.28 618.7 426.7 C621.78 424.12 624.87 421.35 627.5 418 C630.13 414.65 632.17 410.4 634.5 406.6" stroke="#1a1a1a" stroke-width="1" fill="none"/>
<path d="M629 371.2 C630.5 372.63 632.28 374.03 633.5 375.5 C634.72 376.97 635.25 377.95 636.3 380 C637.35 382.05 638.42 385.03 639.8 387.8 C641.18 390.57 642.98 393.83 644.6 396.6 C646.22 399.37 647.53 401.3 649.5 404.4 C651.47 407.5 654.28 412.1 656.4 415.2 C658.52 418.3 660.25 420.57 662.2 423 C664.15 425.43 665.33 427.12 668.1 429.8 C670.87 432.48 675.15 436.18 678.8 439.1 C682.45 442.02 686.87 444.85 690 447.3 C693.13 449.75 695.47 451.45 697.6 453.8 C699.73 456.15 701.73 459 702.8 461.4 C703.87 463.8 704.17 465.85 704 468.2 C703.83 470.55 703.13 473.28 701.8 475.5 C700.47 477.72 698.03 479.92 696 481.5 C693.97 483.08 691.93 484.28 689.6 485 C687.27 485.72 684.13 486.07 682 485.8 C679.87 485.53 678.72 484.78 676.8 483.4 C674.88 482.02 672.63 479.5 670.5 477.5 C668.37 475.5 666.42 473.65 664 471.4 C661.58 469.15 658.67 466.4 656 464 C653.33 461.6 650.67 459.13 648 457 C645.33 454.87 642.67 453.07 640 451.2 C637.33 449.33 634.67 447.33 632 445.8 C629.33 444.27 626.67 442.93 624 442 C621.33 441.07 618.67 440.78 616 440.2 C613.33 439.62 610.67 439.1 608 438.5 C605.33 437.9 602.92 437.43 600 436.6 C597.08 435.77 593.62 434.8 590.5 433.5 C587.38 432.2 584.38 430.88 581.3 428.8 C578.22 426.72 574.72 423.63 572 421 C569.28 418.37 566.83 415.43 565 413 C563.17 410.57 562.33 408.6 561 406.4" stroke="#1a1a1a" stroke-width="1" fill="none"/>
<text x="598" y="397.4" font-size="7.6" text-anchor="middle" font-weight="bold" fill="#111" letter-spacing="0.3" stroke="#111" stroke-width="0.45" transform="translate(598 397.4) scale(1.18 1.02) translate(-598 -397.4)">JOYOU</text>
<path d="M508.36 530.7 A162.3 162.3 0 0 0 596.28 557.49" stroke="#1a1a1a" stroke-width="1" fill="none"/>
<path d="M599.12 557.49 A162.3 162.3 0 0 0 648.93 549.2" stroke="#1a1a1a" stroke-width="1" fill="none"/>
<path d="M682.5 533.58 A162.3 162.3 0 0 0 717.93 504.22" stroke="#1a1a1a" stroke-width="1" fill="none"/>
<line x1="597.5" y1="526.8" x2="597.5" y2="561" stroke="#1a1a1a" stroke-width="0.9"/>
<polygon points="597.7,557.5 588.14,559.2 588.27,555.2" fill="#000"/>
<polygon points="597.7,557.5 607.13,555.2 607.26,559.2" fill="#000"/>
<polygon points="476.14,502.74 485.42,509.8 482.66,512.41" fill="#000"/>
<polygon points="722.39,499.09 716.17,508.95 713.33,506.42" fill="#000"/>
<line x1="491.81" y1="489.21" x2="473.19" y2="505.74" stroke="#1a1a1a" stroke-width="0.9"/>
<line x1="713.33" y1="491.54" x2="723.7" y2="500.18" stroke="#1a1a1a" stroke-width="0.9"/>
<text x="488.3" y="523.8" font-size="8.2" text-anchor="start" font-weight="normal" fill="#111">50~</text>
<text x="660.4" y="546.1" font-size="8.2" text-anchor="start" font-weight="normal" fill="#111">50~</text>
<path d="M457.3 505.4 L460.2 505.4 M458.6 503.8 L458.6 509.6 L457.6 509.2 M457.3 508 L460.3 506.8 M460.6 504.6 L463.2 504.6 L463.2 507.8 L464.6 509.8 M462 503.8 L461.5 507 L460.4 509.4 M461.3 506 L462.6 507.4" stroke="#333" stroke-width="0.8" fill="none"/>
<path d="M457.6 510.7 L457.9 510.9 M459.6 510.7 L459.8 510.9 M461.6 510.7 L461.8 510.9 M463.6 510.6 L464 510.9" stroke="#333" stroke-width="0.8" fill="none"/>
<path d="M723.3 501.6 L723.3 507.4 M725.4 501.5 L729.6 501.5 L729.6 503.6 M725.4 504.2 L729.6 504.2 M726.8 502.5 L726.8 505.5 M725.4 505.8 L728.6 505.8 L729.3 507.4 M724.6 501.4 L724.8 501.8" stroke="#333" stroke-width="0.8" fill="none"/>
</svg>
</body></html>
